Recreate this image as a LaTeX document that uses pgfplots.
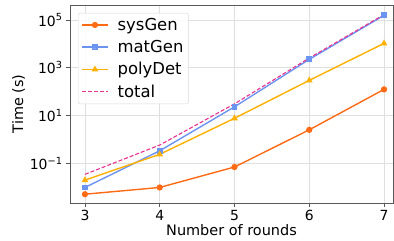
\documentclass[border=0pt]{standalone}
\usepackage{pgfplots}
\pgfplotsset{compat=1.18}
\usepackage{fontspec}
\setmainfont{DejaVu Sans}
\definecolor{cSys}{HTML}{FF6A13}
\definecolor{cMat}{HTML}{6A94F0}
\definecolor{cPoly}{HTML}{FFB000}
\definecolor{cTot}{HTML}{E8308F}
\begin{document}
\begin{tikzpicture}[x=1bp,y=1bp]
\useasboundingbox (-70bp,-38bp) rectangle (324bp,203bp);
\begin{axis}[
  at={(0,0)}, anchor=south west,
  scale only axis, width=323bp, height=198bp,
  ymode=log, log basis y=10,
  xmin=2.8, xmax=7.12,
  ymin=2.14e-3, ymax=4.27e5,
  xtick={3,4,5,6,7},
  ytick={1e-1,1e1,1e3,1e5},
  yticklabels={10\textsuperscript{−1},10\textsuperscript{1},10\textsuperscript{3},10\textsuperscript{5}},
  minor ytick={},
  xticklabel style={font=\fontsize{14}{16}\selectfont},
  yticklabel style={font=\fontsize{14}{16}\selectfont},
  /pgf/number format/assume math mode=true,
  xlabel={Number of rounds}, ylabel={Time (s)},
  label style={font=\fontsize{14.5}{17}\selectfont},
  xlabel style={yshift=3bp},
  ylabel style={yshift=-2bp},
  grid=major, major grid style={gray!25, line width=0.6pt},
  axis line style={gray!70!black, line width=0.8pt},
  tick style={gray!70!black, line width=0.8pt},
  tick align=outside, major tick length=4bp,
  xtick pos=bottom, ytick pos=left,
  legend style={font=\fontsize{16.5}{19}\selectfont, draw=gray!30, rounded corners=2pt, fill=white, fill opacity=0.85, text opacity=1, at={(0.025,0.96)}, anchor=north west, inner sep=3pt, row sep=4.5bp, /tikz/every odd column/.append style={column sep=7bp}},
  legend cell align=left,
  legend image code/.code={\draw[mark repeat=2,mark phase=2,#1] plot coordinates {(0bp,0bp) (13bp,0bp) (26bp,0bp)};},
  every axis plot/.append style={line width=1.4pt},
]
\addplot[cSys, mark=*, mark size=2.4pt] coordinates {(3,0.005) (4,0.0096) (5,0.069) (6,2.5) (7,124)};
\addlegendentry{sysGen}
\addplot[cMat, mark=square*, mark size=2.2pt] coordinates {(3,0.0096) (4,0.33) (5,23) (6,2250) (7,158000)};
\addlegendentry{matGen}
\addplot[cPoly, mark=triangle*, mark size=2.5pt] coordinates {(3,0.0195) (4,0.235) (5,7.6) (6,296) (7,10500)};
\addlegendentry{polyDet}
\addplot[cTot, dash pattern=on 4bp off 2bp, line width=1.1pt] coordinates {(3,0.034) (4,0.575) (5,30.7) (6,2550) (7,168600)};
\addlegendentry{total}
\end{axis}
\end{tikzpicture}
\end{document}
